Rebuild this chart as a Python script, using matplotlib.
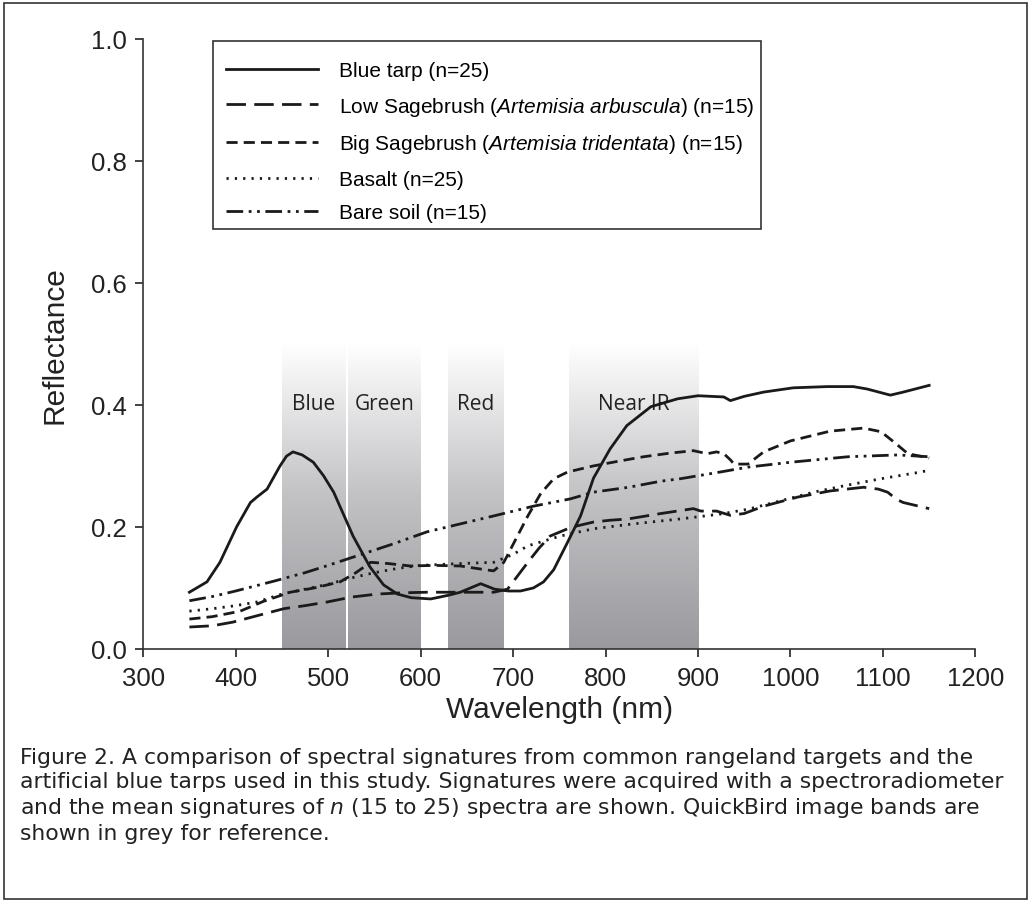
import numpy as np
import matplotlib
matplotlib.use("Agg")
import matplotlib.pyplot as plt
from matplotlib.colors import LinearSegmentedColormap
from matplotlib.patches import Rectangle

plt.rcParams['font.family'] = ['Liberation Sans', 'DejaVu Sans']
plt.rcParams['mathtext.fontset'] = 'custom'
plt.rcParams['mathtext.rm'] = 'Liberation Sans'
plt.rcParams['mathtext.it'] = 'Liberation Sans:italic'

# values
tarp_nm = [350, 369, 383, 401, 416, 423, 434, 448, 455, 462, 472, 484, 495, 506, 527, 545,
           560, 575, 590, 611, 630, 643, 665, 680, 695, 708, 722, 733, 744, 759, 773, 787,
           805, 823, 849, 878, 900, 928, 935, 950, 971, 1003, 1040, 1068, 1083, 1108, 1122,
           1150]
tarp_val = [0.093, 0.11, 0.142, 0.20, 0.24, 0.249, 0.262, 0.30, 0.316, 0.323, 0.318, 0.306,
            0.284, 0.257, 0.185, 0.135, 0.105, 0.09, 0.084, 0.082, 0.088, 0.093, 0.107, 0.098,
            0.095, 0.095, 0.10, 0.11, 0.13, 0.175, 0.218, 0.28, 0.328, 0.366, 0.397, 0.41,
            0.415, 0.413, 0.407, 0.414, 0.421, 0.428, 0.43, 0.43, 0.426, 0.416, 0.421, 0.432]

low_nm = [350, 375, 397, 427, 452, 475, 499, 525, 553, 580, 607, 640, 679, 694, 705, 716,
          728, 740, 759, 770, 787, 805, 824, 860, 895, 903, 920, 935, 950, 971, 1008, 1043,
          1079, 1095, 1105, 1115, 1122, 1150]
low_val = [0.036, 0.038, 0.044, 0.056, 0.066, 0.071, 0.077, 0.085, 0.09, 0.092, 0.093, 0.093,
           0.093, 0.098, 0.12, 0.142, 0.165, 0.185, 0.197, 0.202, 0.208, 0.211, 0.213, 0.222,
           0.23, 0.226, 0.226, 0.219, 0.222, 0.234, 0.249, 0.259, 0.265, 0.262, 0.257, 0.245,
           0.24, 0.23]

big_nm = [350, 375, 405, 430, 459, 485, 513, 530, 546, 565, 589, 615, 643, 665, 679, 690,
          703, 716, 730, 744, 759, 787, 815, 841, 870, 895, 910, 920, 928, 935, 939, 954,
          971, 1000, 1043, 1079, 1098, 1112, 1127, 1150]
big_val = [0.049, 0.053, 0.062, 0.078, 0.093, 0.10, 0.11, 0.125, 0.142, 0.14, 0.136, 0.137,
           0.136, 0.131, 0.128, 0.142, 0.18, 0.218, 0.255, 0.279, 0.29, 0.30, 0.308, 0.315,
           0.321, 0.325, 0.32, 0.323, 0.32, 0.31, 0.303, 0.303, 0.323, 0.341, 0.357, 0.362,
           0.356, 0.339, 0.32, 0.313]

basalt_nm = [350, 375, 400, 423, 450, 475, 500, 521, 550, 575, 600, 643, 679, 700, 716, 751,
             787, 830, 880, 924, 954, 990, 1025, 1060, 1098, 1141, 1150]
basalt_val = [0.062, 0.066, 0.071, 0.077, 0.09, 0.098, 0.106, 0.115, 0.125, 0.132, 0.137,
              0.14, 0.142, 0.155, 0.169, 0.185, 0.197, 0.205, 0.213, 0.221, 0.229, 0.243,
              0.257, 0.268, 0.279, 0.29, 0.293]

soil_nm = [350, 375, 400, 441, 475, 500, 532, 570, 607, 643, 679, 722, 762, 787, 825,
           860, 881, 924, 954, 1000, 1062, 1116, 1150]
soil_val = [0.079, 0.086, 0.095, 0.111, 0.125, 0.137, 0.153, 0.172, 0.192, 0.205,
            0.218, 0.234, 0.246, 0.257, 0.265, 0.275, 0.279, 0.29, 0.298, 0.306, 0.315,
            0.318, 0.315]

band_names = ["Blue", "Green", "Red", "Near IR"]
band_start = [450, 522, 630, 760]
band_end = [519, 600, 690, 900]
band_top = 0.5

fig = plt.figure(figsize=(10.3, 9.04), dpi=100)
ax = fig.add_axes([0.139, 0.281, 0.808, 0.675])

# grey gradient bands
cmap = LinearSegmentedColormap.from_list("band", ["#9a9a9e", "#c2c2c5", "#ffffff"])
grad = np.linspace(0, 1, 256).reshape(-1, 1)
for name, a, b in zip(band_names, band_start, band_end):
    ax.imshow(grad, cmap=cmap, extent=[a, b, 0, band_top], origin="lower",
              aspect="auto", zorder=0)
    ax.text((a + b) / 2, 0.402, name, ha="center", va="center", fontsize=15,
            family=["Open Sans", "DejaVu Sans"], color="#222222", zorder=1)

lc = "#1a1a1a"
lw = 2.0
ax.plot(tarp_nm, tarp_val, color=lc, lw=lw, ls="-", label="Blue tarp (n=25)", zorder=3)
ax.plot(low_nm, low_val, color=lc, lw=lw, ls=(0, (7, 3)),
        label="Low Sagebrush ($\\it{Artemisia\\ arbuscula}$) (n=15)", zorder=3)
ax.plot(big_nm, big_val, color=lc, lw=lw, ls=(0, (4, 2.2)),
        label="Big Sagebrush ($\\it{Artemisia\\ tridentata}$) (n=15)", zorder=3)
ax.plot(basalt_nm, basalt_val, color=lc, lw=lw, ls=(0, (0.8, 2.2)),
        label="Basalt (n=25)", zorder=3)
ax.plot(soil_nm, soil_val, color=lc, lw=lw, ls=(0, (6, 2, 1, 2, 1, 2)),
        label="Bare soil (n=15)", zorder=3)

ax.set_xlim(300, 1200)
ax.set_ylim(0, 1.0)
ax.set_xticks(range(300, 1201, 100))
ax.set_yticks([0.0, 0.2, 0.4, 0.6, 0.8, 1.0])
ax.set_yticklabels(["0.0", "0.2", "0.4", "0.6", "0.8", "1.0"])
ax.tick_params(direction="out", length=6, width=1.2, labelsize=18.5, colors="#222222", pad=6)
for s in ["top", "right"]:
    ax.spines[s].set_visible(False)
for s in ["left", "bottom"]:
    ax.spines[s].set_linewidth(1.2)
    ax.spines[s].set_color("#333333")

ax.set_xlabel("Wavelength (nm)", fontsize=21.5, labelpad=4, color="#222222")
ax.set_ylabel("Reflectance", fontsize=21.5, labelpad=16, color="#222222")

# legend without its own frame, boxed by a rectangle in axes coordinates
leg = ax.legend(loc="upper left", bbox_to_anchor=(0.09, 0.977), fontsize=15,
                handlelength=4.4, handletextpad=1.0, borderpad=0.4, labelspacing=0.7,
                borderaxespad=0, frameon=False)
leg.set_zorder(5)
ax.add_patch(Rectangle((0.084, 0.689), 0.658, 0.308, transform=ax.transAxes,
                       facecolor="white", edgecolor="#333333", lw=1.2, zorder=4))

caption = ("Figure 2. A comparison of spectral signatures from common rangeland targets and the\n"
           "artificial blue tarps used in this study. Signatures were acquired with a spectroradiometer\n"
           "and the mean signatures of $\\it{n}$ (15 to 25) spectra are shown. QuickBird image bands are\n"
           "shown in grey for reference.")
fig.text(0.019, 1 - 748 / 904, caption, fontsize=15.75, va="top", ha="left",
         linespacing=1.24, color="#222222", family=["DejaVu Sans"],
         math_fontfamily="dejavusans")

fig.patches.append(Rectangle((0.004, 0.004), 0.993, 0.992, transform=fig.transFigure,
                             fill=False, edgecolor="#333333", lw=1.2))

fig.savefig("out.png", dpi=100)
